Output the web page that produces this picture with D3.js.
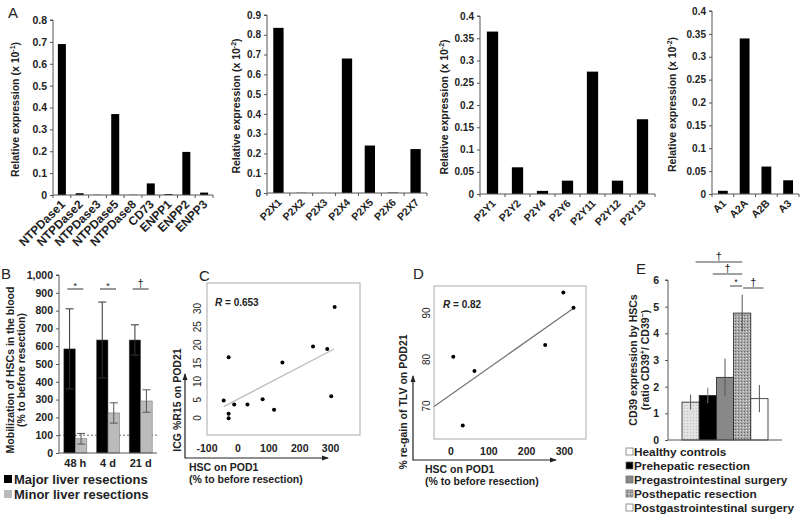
<!DOCTYPE html>
<html><head><meta charset="utf-8">
<script src="https://cdn.jsdelivr.net/npm/d3@7"></script>
<style>
body{margin:0;background:#fff;}
svg{display:block;font-family:"Liberation Sans",Arial,sans-serif;font-weight:bold;}
</style></head>
<body><svg id="c" width="800" height="516"></svg>
<script>
// ---------- DATA ----------
const a1Cats = ["NTPDase1","NTPDase2","NTPDase3","NTPDase5","NTPDase8","CD73","ENPP1","ENPP2","ENPP3"];
const a1Vals = [0.69,0.008,0.001,0.37,0.001,0.053,0.004,0.197,0.011];
const a1Ticks = [0,0.1,0.2,0.3,0.4,0.5,0.6,0.7,0.8];
const a2Cats = ["P2X1","P2X2","P2X3","P2X4","P2X5","P2X6","P2X7"];
const a2Vals = [0.835,0.001,0.0,0.68,0.24,0.002,0.222];
const a2Ticks = [0,0.1,0.2,0.3,0.4,0.5,0.6,0.7,0.8,0.9];
const a3Cats = ["P2Y1","P2Y2","P2Y4","P2Y6","P2Y11","P2Y12","P2Y13"];
const a3Vals = [0.365,0.06,0.007,0.03,0.275,0.03,0.168];
const a3Ticks = [0,0.05,0.1,0.15,0.2,0.25,0.3,0.35,0.4];
const a4Cats = ["A1","A2A","A2B","A3"];
const a4Vals = [0.007,0.34,0.06,0.03];
const a4Ticks = [0,0.05,0.1,0.15,0.2,0.25,0.3,0.35,0.4];
const aExp = ["-1","-2","-2","-2"];

const bGroups = ["48 h","4 d","21 d"];
const bMajor = [585,635,635];
const bMajorErr = [225,213,85];
const bMinor = [80,225,292];
const bMinorErr = [30,57,63];
const bSig = ["*","*","†"];
const bTicks = [0,100,200,300,400,500,600,700,800,900,1000];
const bSeries = ["Major liver resections","Minor liver resections"];

const cX = [-46,-30,-30,-30,-12,31,80,117,144,243,289,302,313];
const cY = [4.75,16.6,1.1,-0.1,3.7,3.7,5.1,2.2,15.2,19.6,18.9,5.9,30.4];
const cFitX = [-46,311];
const cFitY = [3.1,18.9];
const cXTicks = [-100,0,100,200,300];
const cYTicks = [0,5,10,15,20,25,30];
const cR = "0.653";

const dX = [6,31,62,249,297,324];
const dY = [80.6,65.8,77.5,83.1,94.4,91.1];
const dFitX = [-45,324];
const dFitY = [69.9,91.0];
const dXTicks = [0,100,200,300];
const dYTicks = [70,80,90];
const dR = "0.82";

const eCats = ["Healthy controls","Prehepatic resection","Pregastrointestinal surgery","Posthepatic resection","Postgastrointestinal surgery"];
const eVals = [1.42,1.67,2.35,4.76,1.55];
const eErr = [0.28,0.29,0.7,0.69,0.51];
const eTicks = [0,1,2,3,4,5,6];
const eSigFrom = [0,1,2,4];
const eSigTo = [3,3,3,3];
const eSigSym = ["†","†","*","†"];

// ---------- DRAW ----------
const svg = d3.select("#c");
const AX = "#555";
const fmt = d => d===0 ? "0" : String(+d.toFixed(2));

function panelLabel(t,x,y){
  svg.append("text").attr("x",x).attr("y",y).attr("font-size",15).attr("font-weight","normal").attr("fill","#222").text(t);
}

function barPanel(cats, vals, ticks, x0, x1, y0, y1, ymax, labX, exp, xfs, yfs){
  const x = d3.scaleBand().domain(cats).range([x0,x1]).paddingInner(0.55).paddingOuter(0.27);
  const xb = d3.scaleBand().domain(cats).range([x0,x1]);
  const y = d3.scaleLinear().domain([0,ymax]).range([y0,y1]);
  const g = svg.append("g");
  g.selectAll("rect").data(cats).join("rect")
    .attr("x",d=>xb(d)+xb.bandwidth()/2-x.bandwidth()/2).attr("width",x.bandwidth())
    .attr("y",(d,i)=>y(vals[i])).attr("height",(d,i)=>y0-y(vals[i])).attr("fill","#000");
  const ya = d3.axisLeft(y).tickValues(ticks).tickFormat(fmt).tickSize(3).tickPadding(3);
  const yg = g.append("g").attr("transform",`translate(${x0},0)`).call(ya);
  yg.select(".domain").attr("stroke",AX).attr("d",`M-3,${y(ymax)}H0V${y0}`);
  yg.selectAll("line").attr("stroke",AX);
  yg.selectAll("text").attr("font-size",yfs).attr("font-family","Liberation Sans,Arial").attr("font-weight","bold").attr("fill","#222");
  g.append("line").attr("x1",x0).attr("x2",x1).attr("y1",y0).attr("y2",y0).attr("stroke",AX);
  g.selectAll(".xt").data(d3.range(cats.length+1)).join("line")
    .attr("x1",i=>x0+i*xb.step()).attr("x2",i=>x0+i*xb.step()).attr("y1",y0).attr("y2",y0+3).attr("stroke",AX);
  g.selectAll(".xl").data(cats).join("text")
    .attr("transform",d=>`translate(${xb(d)+xb.bandwidth()/2+4},${y0+10}) rotate(-45)`)
    .attr("text-anchor","end").attr("font-size",xfs).attr("fill","#222").text(d=>d);
  const t = g.append("text").attr("transform",`translate(${labX},${(y0+y1)/2+2}) rotate(-90)`)
    .attr("text-anchor","middle").attr("font-size",10.5).attr("fill","#222");
  t.append("tspan").text("Relative expression (x 10");
  t.append("tspan").attr("font-size",7).attr("dy",-4).text(exp);
  t.append("tspan").attr("dy",4).text(")");
}

panelLabel("A",8,18);
barPanel(a1Cats,a1Vals,a1Ticks,53,213,195,20,0.8,19,aExp[0],12,10.5);
barPanel(a2Cats,a2Vals,a2Ticks,267,427,193,15,0.9,240,aExp[1],10.5,10);
barPanel(a3Cats,a3Vals,a3Ticks,480,655,194,16,0.4,448,aExp[2],10.5,10);
barPanel(a4Cats,a4Vals,a4Ticks,712,799,194,11,0.4,676,aExp[3],10.5,10);

// ---------- B ----------
panelLabel("B",1,279);
(function(){
  const x0=59,x1=157,y0=453,y1=275;
  const x = d3.scaleBand().domain(bGroups).range([x0,x1]);
  const y = d3.scaleLinear().domain([0,1000]).range([y0,y1]);
  const bw = 11.5;
  const g = svg.append("g");
  g.append("line").attr("x1",x0).attr("x2",x1).attr("y1",y(100)).attr("y2",y(100)).attr("stroke","#666").attr("stroke-dasharray","2,2");
  const series = [{v:bMajor,e:bMajorErr,c:"#000",off:-bw,ec:"#333"},{v:bMinor,e:bMinorErr,c:"#bbb",off:0,ec:"#555"}];
  series.forEach(s=>{
    bGroups.forEach((gname,i)=>{
      const cx = x(gname)+x.bandwidth()/2+s.off;
      g.append("rect").attr("x",cx).attr("width",bw).attr("y",y(s.v[i])).attr("height",y0-y(s.v[i])).attr("fill",s.c).attr("stroke","#666").attr("stroke-width",0.5);
      const mx = cx+bw/2;
      g.append("line").attr("x1",mx).attr("x2",mx).attr("y1",y(s.v[i]+s.e[i])).attr("y2",y(s.v[i]-s.e[i])).attr("stroke",s.ec);
      g.append("line").attr("x1",mx-4).attr("x2",mx+4).attr("y1",y(s.v[i]+s.e[i])).attr("y2",y(s.v[i]+s.e[i])).attr("stroke",s.ec);
      g.append("line").attr("x1",mx-4).attr("x2",mx+4).attr("y1",y(s.v[i]-s.e[i])).attr("y2",y(s.v[i]-s.e[i])).attr("stroke",s.ec);
    });
  });
  bGroups.forEach((gname,i)=>{
    const c = x(gname)+x.bandwidth()/2;
    g.append("line").attr("x1",c-8).attr("x2",c+8).attr("y1",289).attr("y2",289).attr("stroke","#333");
    g.append("text").attr("x",c).attr("y",bSig[i]==="*"?289:287).attr("text-anchor","middle").attr("font-size",bSig[i]==="*"?9:11).attr("font-weight","normal").attr("fill","#222").text(bSig[i]);
  });
  const ya = d3.axisLeft(y).tickValues(bTicks).tickSize(3).tickPadding(3);
  const yg = g.append("g").attr("transform",`translate(${x0},0)`).call(ya);
  yg.select(".domain").attr("stroke",AX).attr("d",`M-3,${y1}H0V${y0}`);
  yg.selectAll("line").attr("stroke",AX);
  yg.selectAll("text").attr("font-size",10.5).attr("font-family","Liberation Sans,Arial").attr("font-weight","bold").attr("fill","#222");
  g.append("line").attr("x1",x0).attr("x2",x1).attr("y1",y0).attr("y2",y0).attr("stroke",AX);
  g.selectAll(".xl").data(bGroups).join("text").attr("x",d=>x(d)+x.bandwidth()/2).attr("y",467)
    .attr("text-anchor","middle").attr("font-size",11).attr("fill","#222").text(d=>d);
  const t = g.append("text").attr("transform",`translate(14,370) rotate(-90)`).attr("text-anchor","middle").attr("font-size",10.5).attr("fill","#222");
  t.append("tspan").attr("x",0).text("Mobilization of HSCs in the blood");
  t.append("tspan").attr("x",0).attr("dy",11).text("(% to before resection)");
  const lc = ["#000","#bbb"];
  bSeries.forEach((s,i)=>{
    g.append("rect").attr("x",4).attr("y",475+i*15).attr("width",8).attr("height",8).attr("fill",lc[i]);
    g.append("text").attr("x",14).attr("y",484+i*15).attr("font-size",13).attr("fill","#222").text(s);
  });
})();

// ---------- scatter ----------
function scatter(opt){
  const x = d3.scaleLinear().domain(opt.xd).range([opt.bx0,opt.bx1]);
  const y = d3.scaleLinear().domain(opt.yd).range([opt.by0,opt.by1]);
  const g = svg.append("g");
  g.append("rect").attr("x",opt.bx0).attr("y",opt.by1).attr("width",opt.bx1-opt.bx0).attr("height",opt.by0-opt.by1)
    .attr("fill","none").attr("stroke","#aaa");
  g.append("line").attr("x1",x(opt.fx[0])).attr("y1",y(opt.fy[0])).attr("x2",x(opt.fx[1])).attr("y2",y(opt.fy[1]))
    .attr("stroke",opt.lc).attr("stroke-width",1.3);
  g.selectAll("circle").data(opt.px).join("circle").attr("cx",d=>x(d)).attr("cy",(d,i)=>y(opt.py[i])).attr("r",2).attr("fill","#000");
  g.selectAll(".xl").data(opt.xt).join("text").attr("x",d=>x(d)).attr("y",opt.xly).attr("text-anchor","middle")
    .attr("font-size",10.5).attr("fill","#222").text(d=>d);
  g.selectAll(".yl").data(opt.yt).join("text").attr("transform",d=>`translate(${opt.ylx},${y(d)}) rotate(-90)`).attr("text-anchor","middle")
    .attr("font-size",10).attr("font-weight","normal").attr("fill","#222").text(d=>d);
  const rt = g.append("text").attr("x",opt.rx).attr("y",opt.ry).attr("font-size",10).attr("fill","#222");
  rt.append("tspan").attr("font-style","italic").text("R");
  rt.append("tspan").text(" = "+opt.r);
  g.append("path").attr("d",`M${opt.ax},${opt.ay0}V${opt.ay1}H${opt.ax1}`).attr("fill","none").attr("stroke","#222").attr("stroke-width",1.2);
  g.append("path").attr("d",`M${opt.ax-2.5},${opt.ay0+6}L${opt.ax},${opt.ay0-1}L${opt.ax+2.5},${opt.ay0+6}Z`).attr("fill","#222");
  g.append("path").attr("d",`M${opt.ax1-6},${opt.ay1-2.5}L${opt.ax1+1},${opt.ay1}L${opt.ax1-6},${opt.ay1+2.5}Z`).attr("fill","#222");
  g.append("text").attr("transform",`translate(${opt.ylabx},${opt.ylaby}) rotate(-90)`).attr("text-anchor","middle").attr("font-size",10.5).attr("fill","#222").text(opt.ylab);
  g.append("text").attr("x",opt.xlabx).attr("y",opt.ay1+13).attr("font-size",10.5).attr("fill","#222").text("HSC on POD1");
  g.append("text").attr("x",opt.xlabx).attr("y",opt.ay1+25).attr("font-size",10.5).attr("fill","#222").text("(% to before resection)");
}
panelLabel("C",199,281);
scatter({xd:[-100,395],yd:[-4.7,37],bx0:207,bx1:360,by0:435,by1:283,fx:cFitX,fy:cFitY,lc:"#bbb",px:cX,py:cY,
  xt:cXTicks,yt:cYTicks,xly:452,ylx:201,rx:215,ry:306,r:cR,ax:185,ay0:374,ay1:458,ax1:328,
  ylab:"ICG %R15 on POD21",ylabx:181,ylaby:400,xlabx:189});
panelLabel("D",413,279);
scatter({xd:[-45,357],yd:[62.9,95.8],bx0:434,bx1:586,by0:439,by1:286,fx:dFitX,fy:dFitY,lc:"#777",px:dX,py:dY,
  xt:dXTicks,yt:dYTicks,xly:455,ylx:430,rx:443,ry:308,r:dR,ax:413,ay0:376,ay1:460,ax1:556,
  ylab:"% re-gain of TLV on POD21",ylabx:407,ylaby:402,xlabx:425});

// ---------- E ----------
panelLabel("E",636,274);
(function(){
  const x0=668,x1=782,y0=440,y1=280;
  const xb = d3.scaleBand().domain(eCats).range([682,768]);
  const y = d3.scaleLinear().domain([0,6]).range([y0,y1]);
  const defs = svg.append("defs");
  const p1 = defs.append("pattern").attr("id","pl").attr("width",3).attr("height",3).attr("patternUnits","userSpaceOnUse");
  p1.append("rect").attr("width",3).attr("height",3).attr("fill","#e2e2e2");
  p1.append("rect").attr("width",1).attr("height",1).attr("fill","#bbb");
  const p2 = defs.append("pattern").attr("id","pd").attr("width",3).attr("height",3).attr("patternUnits","userSpaceOnUse");
  p2.append("rect").attr("width",3).attr("height",3).attr("fill","#a8a8a8");
  p2.append("rect").attr("width",1).attr("height",1).attr("fill","#666");
  p2.append("rect").attr("x",2).attr("y",1).attr("width",1).attr("height",1).attr("fill","#ddd");
  const fills = ["url(#pl)","#000","#888","url(#pd)","#fff"];
  const g = svg.append("g");
  eCats.forEach((c,i)=>{
    g.append("rect").attr("x",xb(c)).attr("width",xb.bandwidth()).attr("y",y(eVals[i])).attr("height",y0-y(eVals[i]))
      .attr("fill",fills[i]).attr("stroke","#222").attr("stroke-width",0.8);
  });
  eCats.forEach((c,i)=>{
    const mx = xb(c)+xb.bandwidth()/2;
    const ec = i===1 ? "#777" : "#555";
    g.append("line").attr("x1",mx).attr("x2",mx).attr("y1",y(eVals[i]+eErr[i])).attr("y2",y(eVals[i]-eErr[i])).attr("stroke",ec);
  });
  const ya = d3.axisLeft(y).tickValues(eTicks).tickFormat(d3.format("d")).tickSize(3).tickPadding(6);
  const yg = g.append("g").attr("transform",`translate(${x0},0)`).call(ya);
  yg.select(".domain").attr("stroke",AX).attr("d",`M-3,${y1}H0V${y0}`);
  yg.selectAll("line").attr("stroke",AX);
  yg.selectAll("text").attr("font-size",10.5).attr("font-family","Liberation Sans,Arial").attr("font-weight","bold").attr("fill","#222");
  g.append("line").attr("x1",x0).attr("x2",x1).attr("y1",y0).attr("y2",y0).attr("stroke",AX);
  const sigY = [262,274,286,288];
  eSigFrom.forEach((f,i)=>{
    const xa = xb(eCats[f])+xb.bandwidth()/2, xc = xb(eCats[eSigTo[i]])+xb.bandwidth()/2;
    const l = Math.min(xa,xc)+ (f<eSigTo[i]?5:1), r = Math.max(xa,xc)-(f<eSigTo[i]?0:-4);
    g.append("line").attr("x1",l).attr("x2",r).attr("y1",sigY[i]).attr("y2",sigY[i]).attr("stroke","#444");
    const isStar = eSigSym[i]==="*";
    g.append("text").attr("x",(l+r)/2).attr("y",isStar?sigY[i]-1:sigY[i]-2).attr("text-anchor","middle")
      .attr("font-size",isStar?9:11).attr("font-weight","normal").attr("fill","#222").text(eSigSym[i]);
  });
  const t = g.append("text").attr("transform",`translate(637,360) rotate(-90)`).attr("text-anchor","middle").attr("font-size",10.5).attr("fill","#222");
  t.append("tspan").attr("x",0).text("CD39 expression by HSCs");
  const t2 = g.append("text").attr("transform",`translate(649,360) rotate(-90)`).attr("text-anchor","middle").attr("font-size",10.5).attr("fill","#222");
  t2.append("tspan").text("(ratio CD39");
  t2.append("tspan").attr("font-size",7).attr("dy",-4).text("+");
  t2.append("tspan").attr("dy",4).text("/ CD39");
  t2.append("tspan").attr("font-size",7).attr("dy",-4).text("−");
  t2.append("tspan").attr("dy",4).text(")");
  const lf = ["#fff","#000","#888","url(#pd)","#fff"];
  eCats.forEach((c,i)=>{
    const yy = 456+i*14;
    g.append("rect").attr("x",626).attr("y",yy-8).attr("width",7).attr("height",7).attr("fill",lf[i]).attr("stroke","#666").attr("stroke-width",0.7);
    g.append("text").attr("x",634).attr("y",yy).attr("font-size",11.8).attr("fill","#222").text(c);
  });
})();
</script></body></html>
